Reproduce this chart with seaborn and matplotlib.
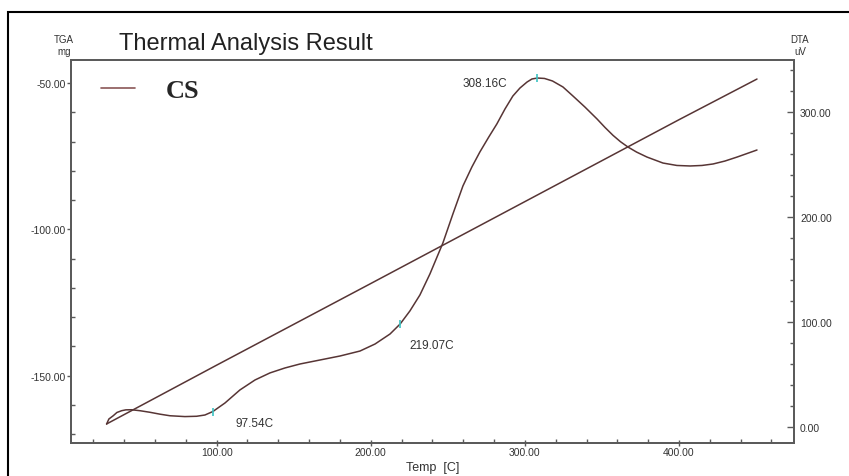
import matplotlib
matplotlib.use("Agg")
import matplotlib.pyplot as plt
from matplotlib.lines import Line2D
from matplotlib.patches import Rectangle
from matplotlib.ticker import MultipleLocator, FormatStrFormatter
import seaborn as sns
import pandas as pd

# TGA trace (left axis, mg) against temperature
tga_temp = [28.6, 100.0, 200.0, 300.0, 400.0, 450.6]
tga_mg = [-166.5, -146.4, -118.5, -90.5, -62.5, -48.6]

# DTA trace (right axis, uV) against temperature
dta_temp = [28.6, 30.1, 32.9, 35.3, 38.4, 41.1, 44.8, 50.2, 56.7, 63.2,
            69.7, 79.4, 87.0, 92.4, 97.54, 105.4, 115.1, 124.9, 134.6, 144.3,
            154.1, 167.1, 180.1, 193.0, 202.8, 212.5, 219.07, 225.4, 231.9, 238.4,
            246.8, 253.3, 259.8, 265.6, 270.8, 276.6, 281.8, 287.1, 292.2, 296.8,
            301.4, 304.6, 308.16, 312.7, 317.9, 324.7, 331.2, 338.9, 346.8, 352.0,
            357.2, 362.0, 366.9, 372.5, 379.2, 389.6, 398.6, 407.2, 414.9, 422.1,
            429.8, 437.7, 450.6]
dta_uv = [3.1, 7.9, 11.0, 14.1, 15.8, 16.6, 16.7, 15.8, 14.3, 12.5,
          11.0, 10.2, 10.5, 11.7, 15.0, 23.1, 35.5, 45.0, 51.7, 56.4,
          60.2, 64.0, 67.8, 72.5, 79.2, 88.7, 98.2, 110.6, 125.8, 145.8,
          175.2, 202.8, 229.4, 247.4, 261.7, 276.0, 288.3, 302.6, 314.9, 322.5,
          328.2, 331.1, 332.0, 331.6, 329.2, 323.5, 314.9, 304.5, 293.1, 285.0,
          277.5, 271.5, 266.4, 261.6, 256.9, 251.2, 248.9, 248.4, 248.9, 250.3,
          253.1, 256.9, 263.6]

# Temperatures of the marked peaks
peak_temps = [97.54, 219.07, 308.16]
peak_uv = [dta_uv[dta_temp.index(t)] for t in peak_temps]

sample_label = "CS"

sns.set_theme(style="white")
plt.rcParams["font.family"] = ["Liberation Sans", "DejaVu Sans"]

fig = plt.figure(figsize=(8.49, 4.77), dpi=100)
ax = fig.add_axes([0.0836, 0.0692, 0.8516, 0.8035])
ax2 = ax.twinx()

line_color = "#573535"
tga_df = pd.DataFrame({"temp": tga_temp, "mg": tga_mg})
dta_df = pd.DataFrame({"temp": dta_temp, "uv": dta_uv})

sns.lineplot(data=tga_df, x="temp", y="mg", ax=ax, color=line_color,
             linewidth=1.1, sort=False, estimator=None)
sns.lineplot(data=dta_df, x="temp", y="uv", ax=ax2, color=line_color,
             linewidth=1.1, sort=False, estimator=None)
sns.scatterplot(x=peak_temps, y=peak_uv, ax=ax2, marker="|", s=40,
                color="#3cc4c4", linewidth=1.2, zorder=5)

# Peak temperature labels
label_offsets = [(112.3, 4.1, "left"), (225.4, 78.2, "left"), (288.6, 327.3, "right")]
for t, (lx, ly, ha) in zip(peak_temps, label_offsets):
    ax2.text(lx, ly, f"{t:.2f}C", ha=ha, va="center", fontsize=8.5, color="#333333")

# Axis ranges
ax.set_xlim(5.5, 474.6)
ax.set_ylim(-173.0, -42.0)
ax2.set_ylim(-14.9, 349.4)

spine_color = "#5a5a5a"
for a in (ax, ax2):
    for s in a.spines.values():
        s.set_color(spine_color)
        s.set_linewidth(1.3)
    a.grid(False)
    a.set_ylabel("")

ax.xaxis.set_major_locator(MultipleLocator(100))
ax.xaxis.set_minor_locator(MultipleLocator(20))
ax.yaxis.set_major_locator(MultipleLocator(50))
ax.yaxis.set_minor_locator(MultipleLocator(10))
ax2.yaxis.set_major_locator(MultipleLocator(100))
ax2.yaxis.set_minor_locator(MultipleLocator(20))
fmt = FormatStrFormatter("%.2f")
ax.xaxis.set_major_formatter(fmt)
ax.yaxis.set_major_formatter(fmt)
ax2.yaxis.set_major_formatter(fmt)

ax.tick_params(axis="x", which="major", direction="inout", length=5, width=1,
               color=spine_color, labelcolor="#333333", labelsize=7.5, pad=0.5,
               bottom=True)
ax.tick_params(axis="x", which="minor", direction="in", length=3, width=1,
               color=spine_color, bottom=True)
ax.tick_params(axis="y", which="major", direction="out", length=3, width=1,
               color=spine_color, labelcolor="#333333", labelsize=7.5, pad=0.5,
               left=True)
ax.tick_params(axis="y", which="minor", direction="in", length=3, width=1,
               color=spine_color, left=True)
ax2.tick_params(axis="y", which="major", direction="in", length=5, width=1,
                color=spine_color, labelcolor="#333333", labelsize=7.5, pad=4.3,
                right=True)
ax2.tick_params(axis="y", which="minor", direction="in", length=3, width=1,
                color=spine_color, right=True)

ax.set_xlabel("Temp  [C]", fontsize=9, color="#333333", labelpad=3)

# Legend
handle = Line2D([], [], color="#8a5656", linewidth=1.2)
ax.legend([handle], [sample_label], loc="center left",
          bbox_to_anchor=(0.0415, 0.921), frameon=False, borderpad=0,
          borderaxespad=0, handlelength=1.3, handletextpad=1.15,
          prop={"family": "Liberation Serif", "weight": "bold", "size": 19})

# Header texts
fig.text(119 / 849, 1 - 44 / 477, "Thermal Analysis Result", ha="left", va="center",
         fontsize=17, color="#222222")
fig.text(64 / 849, 1 - 40 / 477, "TGA", ha="center", va="center", fontsize=7, color="#333333")
fig.text(64 / 849, 1 - 52 / 477, "mg", ha="center", va="center", fontsize=7, color="#333333")
fig.text(800 / 849, 1 - 40 / 477, "DTA", ha="center", va="center", fontsize=7, color="#333333")
fig.text(800 / 849, 1 - 52 / 477, "uV", ha="center", va="center", fontsize=7, color="#333333")

# Outer frame
fig.add_artist(Rectangle((8 / 849, -0.05), 1.0, 1.05 - 13 / 477,
                         transform=fig.transFigure, fill=False,
                         edgecolor="black", linewidth=1.5))

fig.savefig("out.png", dpi=100)
